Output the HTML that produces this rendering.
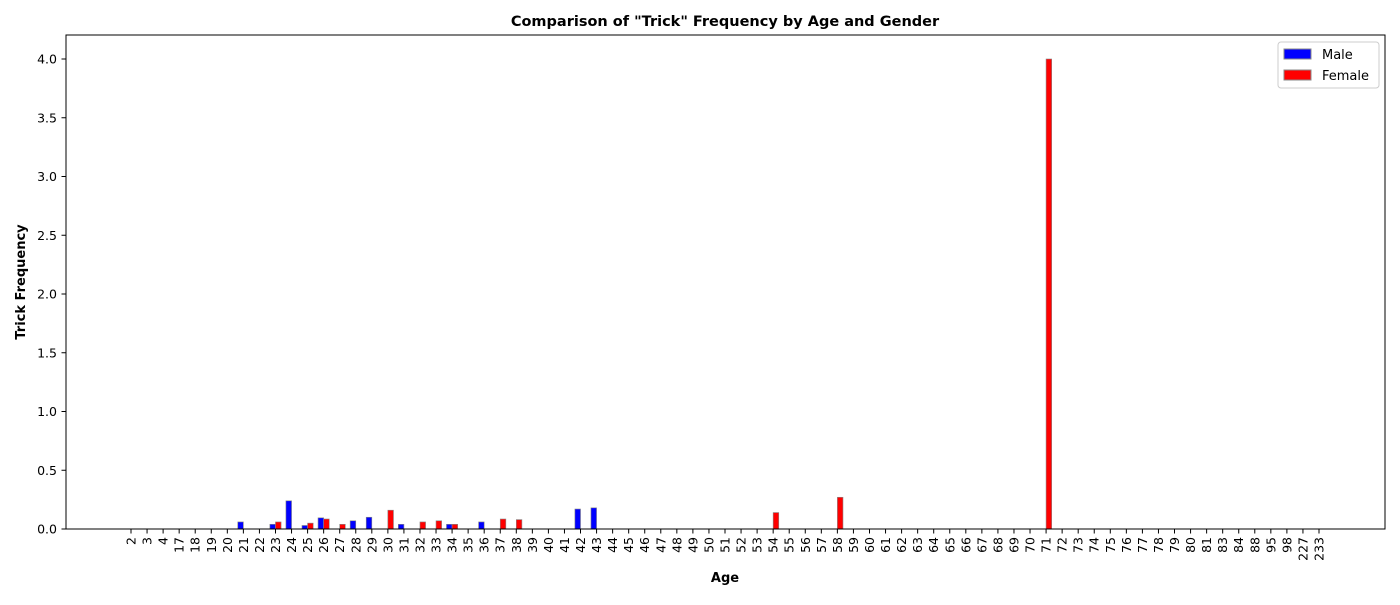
<!DOCTYPE html>
<html><head><meta charset="utf-8"><style>
body{margin:0;background:#fff;font-family:"Liberation Sans","DejaVu Sans",sans-serif}
svg text{font-family:"DejaVu Sans","Liberation Sans",sans-serif}
</style></head><body>
<svg id="chart" width="1400" height="600" xmlns="http://www.w3.org/2000/svg">
<rect width="1400" height="600" fill="#fff"/>
<text x="725" y="26" text-anchor="middle" font-size="14.5" font-weight="bold">Comparison of "Trick" Frequency by Age and Gender</text>
<g id="bars"></g>
<g id="axes"></g>
<rect x="66" y="35" width="1319" height="494" fill="none" stroke="#000" stroke-width="1"/>
<text x="725" y="582" text-anchor="middle" font-size="13" font-weight="bold">Age</text>
<text transform="translate(25,282) rotate(-90)" text-anchor="middle" font-size="13" font-weight="bold">Trick Frequency</text>
<g>
<rect x="1278" y="42" width="101" height="46" fill="#fff" stroke="#ccc" rx="3"/>
<g><rect x="1284" y="49" width="27" height="10" fill="#0000ff" stroke="#888"/><text x="1322" y="59" font-size="13">Male</text></g>
<g><rect x="1284" y="70" width="27" height="10" fill="#ff0000" stroke="#888"/><text x="1322" y="80" font-size="13">Female</text></g>
</g>
</svg>
<script>
const ages=[2,3,4,17,18,19,20,21,22,23,24,25,26,27,28,29,30,31,32,33,34,35,36,37,38,39,40,41,42,43,44,45,46,47,48,49,50,51,52,53,54,55,56,57,58,59,60,61,62,63,64,65,66,67,68,69,70,71,72,73,74,75,76,77,78,79,80,81,83,84,88,95,98,227,233];
const maleAges=[21,23,24,25,26,28,29,31,34,36,42,43];
const maleValues=[0.06,0.04,0.24,0.03,0.095,0.07,0.1,0.04,0.04,0.06,0.17,0.18];
const femaleAges=[23,25,26,27,30,32,33,34,37,38,54,58,71];
const femaleValues=[0.06,0.05,0.085,0.04,0.16,0.06,0.07,0.04,0.085,0.08,0.14,0.27,4.0];
const yTicks=[0,0.5,1.0,1.5,2.0,2.5,3.0,3.5,4.0];
const NS="http://www.w3.org/2000/svg";
const x0=131,dx=(1319-131)/74;
function xs(age){return x0+ages.indexOf(age)*dx;}
function ys(v){return 529-v*117.5;}
const bars=document.getElementById('bars'),axes=document.getElementById('axes');
function mk(t,a,p){const e=document.createElementNS(NS,t);for(const k in a)e.setAttribute(k,a[k]);p.appendChild(e);return e;}
maleAges.forEach((a,i)=>{const r=mk('rect',{x:xs(a)-5.6,y:ys(maleValues[i]),width:5.6,height:529-ys(maleValues[i]),fill:'#0000ff',stroke:'#888','stroke-width':0.6},bars);

});
femaleAges.forEach((a,i)=>{const r=mk('rect',{x:xs(a),y:ys(femaleValues[i]),width:5.6,height:529-ys(femaleValues[i]),fill:'#ff0000',stroke:'#888','stroke-width':0.6},bars);

});
ages.forEach(a=>{const x=xs(a);mk('line',{x1:x,x2:x,y1:529,y2:533.5,stroke:'#000'},axes);
const t=mk('text',{transform:`translate(${x+4.5},${537}) rotate(-90)`,'text-anchor':'end','font-size':12.5},axes);t.textContent=a;

});
yTicks.forEach(v=>{const y=ys(v);mk('line',{x1:61.5,x2:66,y1:y,y2:y,stroke:'#000'},axes);
const t=mk('text',{x:57,y:y+4.5,'text-anchor':'end','font-size':12.5},axes);t.textContent=v.toFixed(1);

});
</script>
</body></html>
